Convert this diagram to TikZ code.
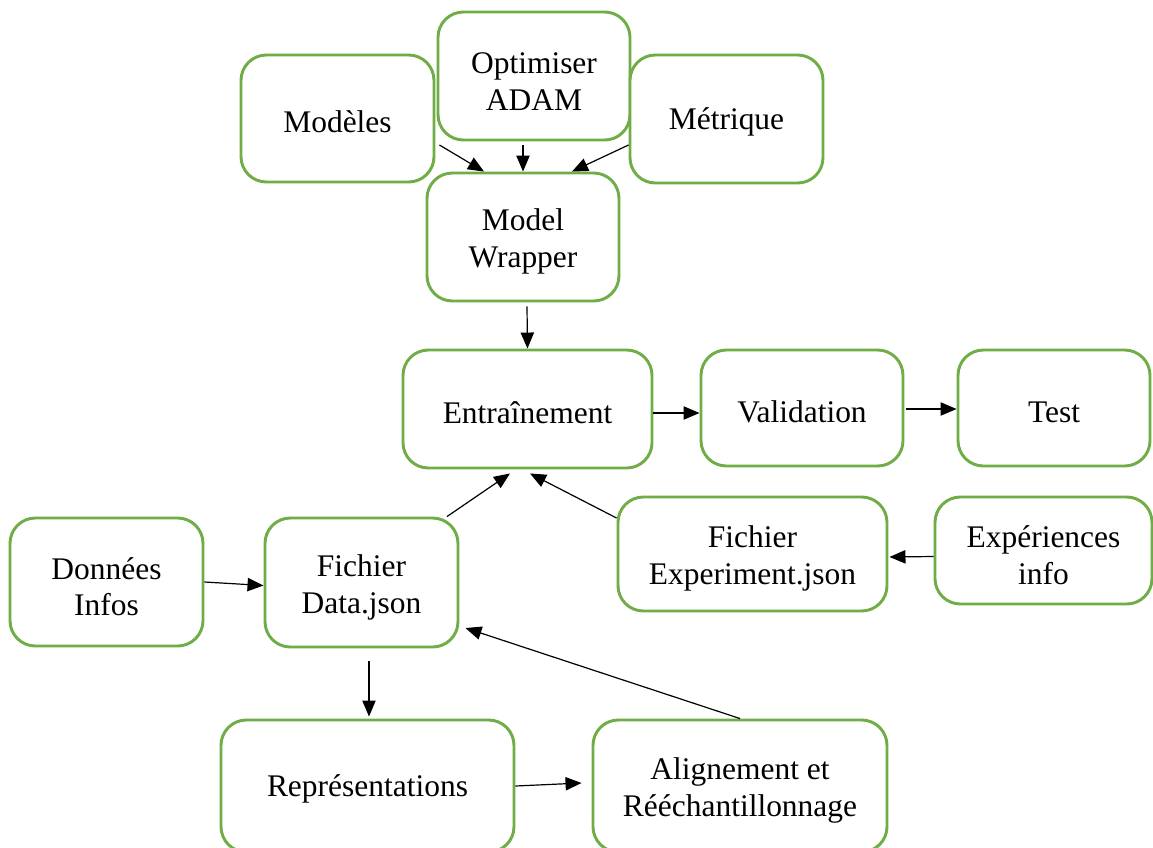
\documentclass[tikz,border=0pt]{standalone}
\usepackage{fontspec}
\setmainfont{Liberation Serif}
\usetikzlibrary{arrows.meta,calc}
\definecolor{boxgreen}{RGB}{112,173,71}
\newcommand{\tstrut}[1]{\rule{0pt}{#1}}
\begin{document}
\begin{tikzpicture}[x=0.75pt,y=-0.75pt,
  box/.style={draw=boxgreen,line width=2.2pt,rounded corners=19pt,fill=white,
    align=center,inner sep=0pt,font=\fontsize{23.6pt}{27.7pt}\selectfont},
  arr/.style={line width=0.9pt,-{Triangle[length=12pt,width=10pt]}}]
\useasboundingbox (0,0) rectangle (1153,847);
\fill[white] (0,0) rectangle (1153,847);
\node[box,minimum width=144.75pt,minimum height=95.25pt] (mod) at (337.5,118.5) {\tstrut{21.5pt}Modèles};
\node[box,minimum width=144pt,minimum height=96pt] (opt) at (534,76) {\tstrut{23.5pt}Optimiser\\ADAM};
\node[box,minimum width=144.75pt,minimum height=96pt] (met) at (726.5,119) {\tstrut{21.5pt}Métrique};
\node[box,minimum width=144pt,minimum height=96pt] (mw) at (523,237) {\tstrut{23.5pt}Model\\Wrapper};
\node[box,minimum width=186.75pt,minimum height=88.5pt] (ent) at (527.5,409) {\tstrut{21.5pt}Entraînement};
\node[box,minimum width=151.5pt,minimum height=87pt] (val) at (802,408) {\tstrut{21.5pt}Validation};
\node[box,minimum width=144pt,minimum height=87pt] (test) at (1054,408) {\tstrut{21.5pt}Test};
\node[box,minimum width=144.75pt,minimum height=96pt] (don) at (106.5,582) {\tstrut{23.5pt}Données\\Infos};
\node[box,minimum width=144.75pt,minimum height=96.75pt] (dat) at (361.5,582.5) {\tstrut{23.5pt}Fichier\\Data.json};
\node[box,minimum width=201.75pt,minimum height=85.5pt] (exp) at (752.5,554) {\tstrut{23.5pt}Fichier\\Experiment.json};
\node[box,minimum width=162.75pt,minimum height=80.25pt] (xin) at (1043.5,550.5) {\tstrut{23.5pt}Expériences\\info};
\node[box,minimum width=219.75pt,minimum height=99pt] (rep) at (367.5,786) {\tstrut{21.5pt}Représentations};
\node[box,minimum width=220.5pt,minimum height=99pt] (ali) at (740,786) {\tstrut{23.5pt}Alignement et\\Rééchantillonnage};
% connectors
\draw[arr] ($(mod.east)+(4,26.5)$) -- ($(mw.north)+(-39,0)$);
\draw[arr] ($(opt.south)+(-11,4)$) -- (mw.north);
\draw[arr] ($(met.west)+(0,26)$) -- ($(mw.north)+(49,0)$);
\draw[arr] ($(mw.south)+(4,4)$) -- (ent.north);
\draw[arr] ($(ent.east)+(0,4)$) -- ($(val.west)+(0,5)$);
\draw[arr] ($(val.east)+(2,1)$) -- ($(test.west)+(0,1)$);
\draw[arr] (don.east) -- ($(dat.west)+(0,3)$);
\draw[arr] ($(dat.north)+(85.5,0)$) -- ($(ent.south)+(-17.5,4)$);
\draw[arr] ($(exp.west)+(0,-36)$) -- ($(ent.south)+(2.5,4)$);
\draw[arr] ($(xin.west)+(0,6)$) -- ($(exp.east)+(1,3)$);
\draw[arr] ($(dat.south)+(7.5,13)$) -- ($(rep.north)+(1.5,-2)$);
\draw[arr] (rep.east) -- ($(ali.west)+(-10,-3)$);
\draw[arr] (ali.north) -- ($(dat.east)+(6,45.5)$);
\end{tikzpicture}
\end{document}
